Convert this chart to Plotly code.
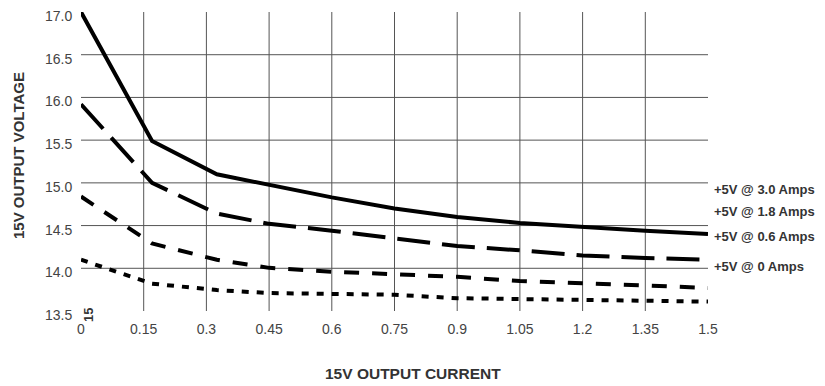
import plotly.graph_objects as go

# ---- data ----
current = [0, 0.17, 0.325, 0.45, 0.6, 0.75, 0.9, 1.05, 1.2, 1.35, 1.5]
v_3_0A = [17.0, 15.49, 15.1, 14.98, 14.83, 14.70, 14.60, 14.53, 14.48, 14.44, 14.40]
v_1_8A = [15.92, 15.0, 14.64, 14.52, 14.44, 14.35, 14.26, 14.21, 14.15, 14.12, 14.10]
v_0_6A = [14.84, 14.29, 14.10, 14.005, 13.96, 13.93, 13.90, 13.85, 13.83, 13.80, 13.77]
v_0A = [14.10, 13.82, 13.745, 13.71, 13.70, 13.69, 13.65, 13.64, 13.63, 13.62, 13.61]

series_names = ["+5V @ 3.0 Amps", "+5V @ 1.8 Amps", "+5V @ 0.6 Amps", "+5V @ 0 Amps"]
x_ticks = [0, 0.15, 0.3, 0.45, 0.6, 0.75, 0.9, 1.05, 1.2, 1.35, 1.5]
x_tick_labels = ["0", "0.15", "0.3", "0.45", "0.6", "0.75", "0.9", "1.05", "1.2", "1.35", "1.5"]
y_ticks = [13.5, 14.0, 14.5, 15.0, 15.5, 16.0, 16.5, 17.0]
y_tick_labels = ["13.5", "14.0", "14.5", "15.0", "15.5", "16.0", "16.5", "17.0"]

# ---- styling ----
series_values = [v_3_0A, v_1_8A, v_0_6A, v_0A]
dashes = ["solid", "33px,12px", "15px,13px", "7px,8px"]
label_y = [14.92, 14.67, 14.37, 14.02]
FONT = "Liberation Sans, Arial, sans-serif"
GRID = "#555555"
TICK_COLOR = "#444444"

fig = go.Figure()
for name, vals, dash in zip(series_names, series_values, dashes):
    fig.add_trace(go.Scatter(
        x=current, y=vals, mode="lines", name=name,
        line=dict(color="black", width=4, dash=dash),
        showlegend=False,
    ))

shapes = []
for xv in x_ticks[1:-1]:
    shapes.append(dict(type="line", xref="x", yref="paper", x0=xv, x1=xv, y0=0, y1=1,
                       line=dict(color=GRID, width=1), layer="below"))
for yv in y_ticks[1:-1]:
    shapes.append(dict(type="line", xref="paper", yref="y", x0=0, x1=1, y0=yv, y1=yv,
                       line=dict(color=GRID, width=1), layer="below"))

annotations = []
# y tick labels (sit a few pixels below their gridlines, as in the reference)
for yv, lab in zip(y_ticks, y_tick_labels):
    annotations.append(dict(text=lab, xref="paper", yref="y", x=0, y=yv, xanchor="right",
                            yanchor="middle", xshift=-7, yshift=-4, showarrow=False,
                            font=dict(family=FONT, size=14, color=TICK_COLOR)))
for name, ly in zip(series_names, label_y):
    annotations.append(dict(text=name, xref="paper", yref="y", x=1, y=ly, xanchor="left",
                            yanchor="middle", xshift=4, showarrow=False,
                            font=dict(family=FONT, size=13, color="#333333", weight="bold")))
annotations.append(dict(text="15V OUTPUT VOLTAGE", xref="paper", yref="paper",
                        x=(18 - 81) / 627, y=(311 - 156) / 299, textangle=-90,
                        xanchor="center", yanchor="middle", showarrow=False,
                        font=dict(family=FONT, size=15, color="#333333", weight="bold")))
annotations.append(dict(text="15V OUTPUT CURRENT", xref="paper", yref="paper",
                        x=(413 - 81) / 627, y=(311 - 373) / 299,
                        xanchor="center", yanchor="middle", showarrow=False,
                        font=dict(family=FONT, size=15.5, color="#333333", weight="bold")))
annotations.append(dict(text="15", xref="paper", yref="paper",
                        x=(88 - 81) / 627, y=(311 - 315) / 299, textangle=-90,
                        xanchor="center", yanchor="middle", showarrow=False,
                        font=dict(family=FONT, size=13, color="#333333", weight="bold")))

fig.update_layout(
    width=825, height=386,
    margin=dict(l=73, r=125, t=4, b=83, autoexpand=False),
    paper_bgcolor="white", plot_bgcolor="white",
    xaxis=dict(range=[0, 1.5], tickvals=x_ticks, ticktext=x_tick_labels,
               showgrid=False, zeroline=False, showline=False, ticks="",
               automargin=False, ticklabelstandoff=8, ticklabeloverflow="allow",
               tickfont=dict(family=FONT, size=14, color=TICK_COLOR)),
    yaxis=dict(range=[13.5, 17.0], tickvals=y_ticks, showticklabels=False,
               showgrid=False, zeroline=False, showline=False, ticks="",
               automargin=False),
    shapes=shapes, annotations=annotations,
)
fig.write_html("out.html")
